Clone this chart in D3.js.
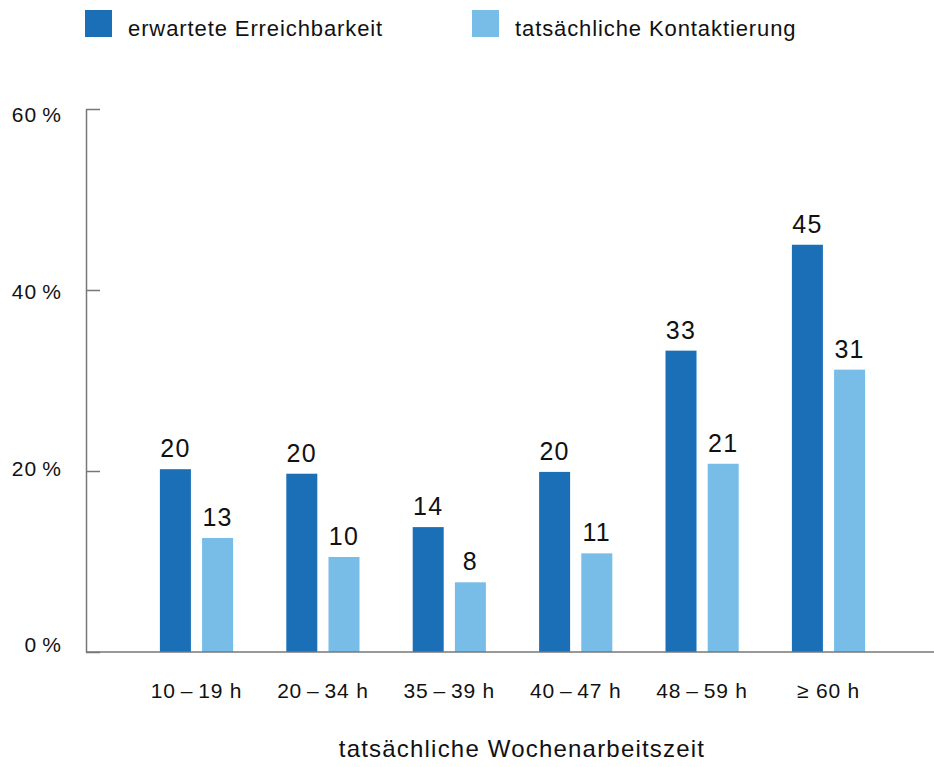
<!DOCTYPE html>
<html lang="de">
<head>
    <meta charset="UTF-8">
    <title>Erreichbarkeit nach Wochenarbeitszeit</title>
    <style>
        body { margin: 0; background: #fff; }
        svg { display: block; font-family: "Liberation Sans", Arial, Helvetica, sans-serif; }
        .bar-label { font-size: 25px; fill: #111; text-anchor: middle; letter-spacing: 1.3px; }
        .cat-label { font-size: 21px; fill: #111; text-anchor: middle; letter-spacing: 0.8px; }
        .legend-text { font-size: 22px; fill: #111; letter-spacing: 0.9px; }
        .axis-title { font-size: 24px; fill: #111; text-anchor: middle; letter-spacing: 1.2px; }
        .y-axis text { font-size: 21px; fill: #111; letter-spacing: 1px; }
        .y-axis path, .y-axis line { stroke: #777; stroke-width: 1.5px; }
    </style>
</head>
<body>
    <svg width="934" height="767"></svg>

    <script src="https://d3js.org/d3.v7.min.js"></script>
    <script>
        // Data
        const categories = ["10\u2009\u2013\u200919 h", "20\u2009\u2013\u200934 h", "35\u2009\u2013\u200939 h",
                            "40\u2009\u2013\u200947 h", "48\u2009\u2013\u200959 h", "\u2265 60 h"];
        const seriesNames = ["erwartete Erreichbarkeit", "tatsächliche Kontaktierung"];
        const expected = [20.2, 19.7, 13.8, 19.9, 33.3, 45.0];      // bar heights
        const actual   = [12.6, 10.5, 7.7, 10.9, 20.8, 31.2];
        const expectedLabels = ["20", "20", "14", "20", "33", "45"];
        const actualLabels   = ["13", "10", "8", "11", "21", "31"];
        const yTicks = [0, 20, 40, 60];
        const colors = ["#1b6fb7", "#77bde8"];

        const svg = d3.select("svg");

        // Scales
        const y = d3.scaleLinear().domain([0, 60]).range([652, 109]);
        // tick labels in the original sit on a slightly tighter spacing than the ticks
        const yLabel = d3.scaleLinear().domain([0, 60]).range([645, 115]);
        const x0 = d3.scaleBand().domain(categories).range([133.3, 891.7]).padding(0);
        const x1 = d3.scaleBand().domain(seriesNames)
            .range([26.6, x0.bandwidth() - 26.6])
            .paddingInner(0.265).paddingOuter(0);
        const color = d3.scaleOrdinal().domain(seriesNames).range(colors);

        // rows: one per category
        const rows = categories.map((c, i) => ({
            cat: c,
            values: [
                { key: seriesNames[0], value: expected[i], label: expectedLabels[i] },
                { key: seriesNames[1], value: actual[i], label: actualLabels[i] }
            ]
        }));

        // Y axis (ticks point inwards)
        const yAxis = svg.append("g")
            .attr("class", "y-axis")
            .attr("transform", "translate(86,0)")
            .call(d3.axisLeft(y)
                .tickValues(yTicks)
                .tickSizeInner(-14)
                .tickSizeOuter(0)
                .tickPadding(24)
                .tickFormat(d => d + "\u2009%"));

        yAxis.selectAll(".tick text")
            .attr("transform", d => `translate(0,${yLabel(d) - y(d)})`);

        // Bars
        const group = svg.selectAll(".group")
            .data(rows)
            .enter().append("g")
            .attr("class", "group")
            .attr("transform", d => `translate(${x0(d.cat)},0)`);

        group.selectAll("rect")
            .data(d => d.values)
            .enter().append("rect")
            .attr("x", d => x1(d.key))
            .attr("y", d => y(d.value))
            .attr("width", x1.bandwidth())
            .attr("height", d => y(0) - y(d.value))
            .attr("fill", d => color(d.key));

        group.selectAll(".bar-label")
            .data(d => d.values)
            .enter().append("text")
            .attr("class", "bar-label")
            .attr("x", d => x1(d.key) + x1.bandwidth() / 2)
            .attr("y", d => y(d.value) - 12)
            .text(d => d.label);

        // baseline
        svg.append("line")
            .attr("x1", 86).attr("x2", 934)
            .attr("y1", y(0)).attr("y2", y(0))
            .attr("stroke", "#777")
            .attr("stroke-width", 1.5);

        // category labels
        svg.selectAll(".cat-label")
            .data(categories)
            .enter().append("text")
            .attr("class", "cat-label")
            .attr("x", d => x0(d) + x0.bandwidth() / 2)
            .attr("y", 698)
            .text(d => d);

        // x axis title
        svg.append("text")
            .attr("class", "axis-title")
            .attr("x", 522)
            .attr("y", 757)
            .text("tatsächliche Wochenarbeitszeit");

        // Legend
        const legendX = [85, 472];
        const legend = svg.selectAll(".legend")
            .data(seriesNames)
            .enter().append("g")
            .attr("class", "legend")
            .attr("transform", (d, i) => `translate(${legendX[i]},10)`);

        legend.append("rect")
            .attr("width", 27)
            .attr("height", 27)
            .attr("fill", d => color(d));

        legend.append("text")
            .attr("class", "legend-text")
            .attr("x", 43)
            .attr("y", 26)
            .text(d => d);
    </script>
</body>
</html>
